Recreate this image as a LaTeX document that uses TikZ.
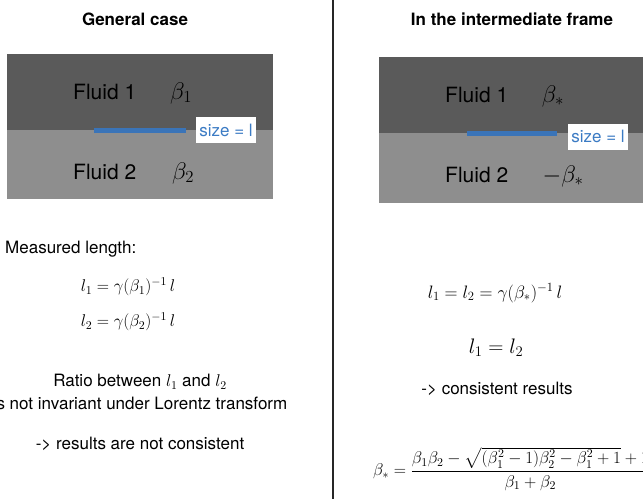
\RequirePackage{fix-cm}
\documentclass[tikz,border=0pt]{standalone}
\usepackage{amsmath}
\usepackage{fontspec}
\setmainfont{TeX Gyre Heros}
\definecolor{darkfluid}{HTML}{5A5A5A}
\definecolor{lightfluid}{HTML}{8E8E8E}
\definecolor{rodblue}{HTML}{3A74B8}
\definecolor{labelblue}{HTML}{3B7BC4}
\begin{document}
\begin{tikzpicture}[x=1pt, y=-1pt,
        every node/.style={font=\fontsize{17}{23}\selectfont, inner sep=0pt},
        title/.style={font=\fontsize{17}{20}\selectfont\bfseries},
        fluid/.style={font=\fontsize{21}{25}\selectfont},
        fluidbeta/.style={font=\fontsize{24}{28}\selectfont},
        sizebox/.style={fill=white, text=labelblue, font=\fontsize{17}{20}\selectfont, minimum width=60pt, minimum height=26pt},
        rod/.style={rodblue, line width=5pt}]
    \useasboundingbox (0,0) rectangle (643,499);
    % the two fluids, general case and intermediate frame
    \fill[darkfluid] (7,54) rectangle (273,130);
    \fill[lightfluid] (7,130) rectangle (273,199);
    \fill[darkfluid] (379,57) rectangle (650,133);
    \fill[lightfluid] (379,133) rectangle (650,203);
    \draw[rod] (94,130.5) -- (186,130.5);
    \draw[rod] (467,133.5) -- (557,133.5);
    % separator
    \draw[line width=1.5pt, black!85] (333,0) -- (333,499);
    % left panel
    \node[title] (titleA) at (135,19) {General case};
    \node[fluid, anchor=west] (fluidA1) at (73,92) {Fluid 1};
    \node[fluidbeta] (betaA1) at (181,93) {$\beta_1$};
    \node[fluid, anchor=west] (fluidA2) at (73,172) {Fluid 2};
    \node[fluidbeta] (betaA2) at (183,173) {$\beta_2$};
    \node[sizebox] (sizeA) at (226,130) {size = l};
    \node[anchor=west] (measured) at (5,249) {Measured length:};
    \node (eqA1) at (128,287) {$l_1 = \gamma(\beta_1)^{-1}\, l$};
    \node (eqA2) at (128,322) {$l_2 = \gamma(\beta_2)^{-1}\, l$};
    \node[align=center] (ratio) at (140,392) {Ratio between $l_1$ and $l_2$\\is not invariant under Lorentz transform};
    \node (resA) at (140,444) {-> results are not consistent};
    % right panel
    \node[title] (titleB) at (512,19) {In the intermediate frame};
    \node[fluid, anchor=west] (fluidB1) at (445,95) {Fluid 1};
    \node[fluidbeta] (betaB1) at (553,96) {$\beta_*$};
    \node[fluid, anchor=west] (fluidB2) at (445,175) {Fluid 2};
    \node[fluidbeta] (betaB2) at (563,176) {$-\beta_*$};
    \node[sizebox] (sizeB) at (598,136.5) {size = l};
    \node[font=\fontsize{18}{23}\selectfont] (eqB1) at (495,293) {$l_1 = l_2 = \gamma(\beta_*)^{-1}\, l$};
    \node[font=\fontsize{21}{25}\selectfont] (eqB2) at (496,348) {$l_1 = l_2$};
    \node (resB) at (497,389) {-> consistent results};
    \node[anchor=west] (betaStar) at (373,469)
        {$\beta_* = \dfrac{\beta_1\beta_2 - \sqrt{(\beta_1^2-1)\beta_2^2-\beta_1^2+1}+1}{\beta_1+\beta_2}$};
\end{tikzpicture}
\end{document}
